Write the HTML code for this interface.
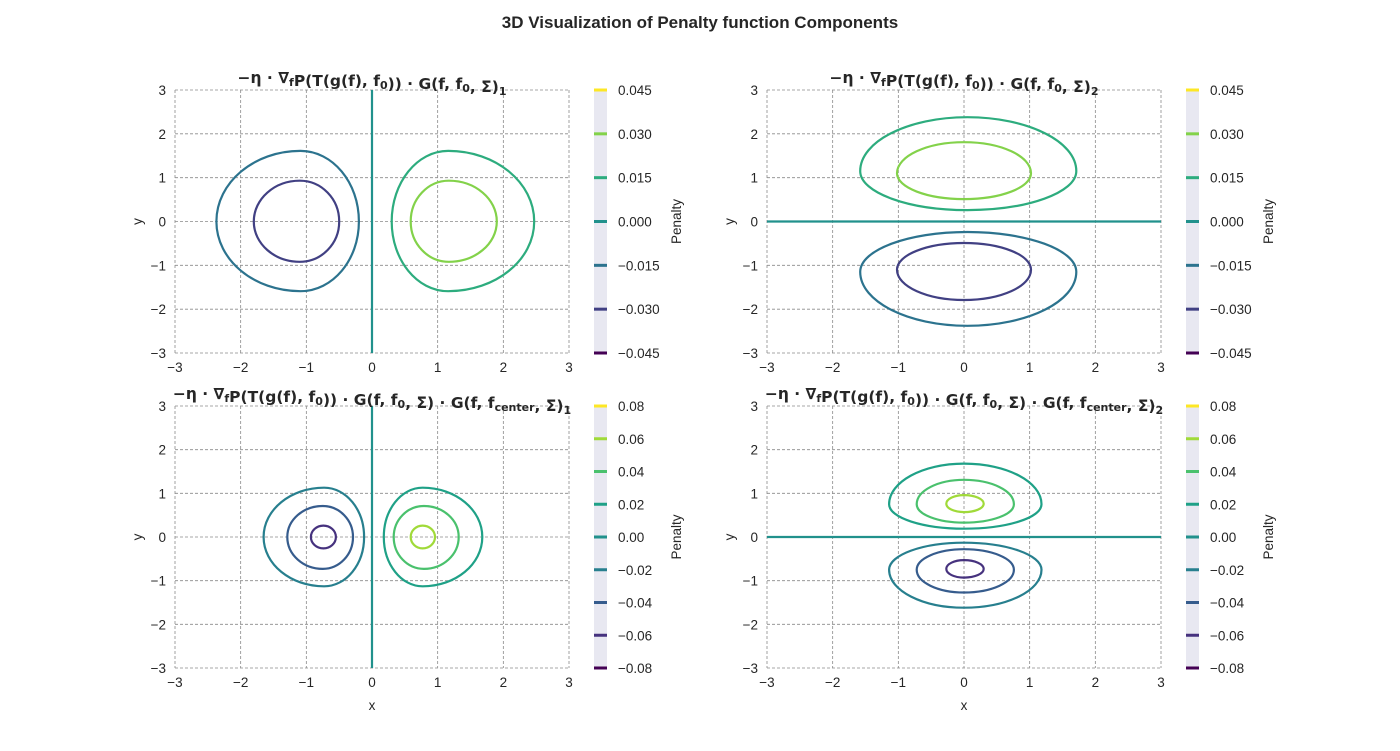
<!DOCTYPE html>
<html><head><meta charset="utf-8">
<style>
body{margin:0;background:#fff;}
svg{display:block;font-family:"Liberation Sans",sans-serif;}
.tk{font-size:13.5px;fill:#262626;}
.tt{font-family:"DejaVu Sans",sans-serif;font-weight:bold;font-size:15.5px;fill:#262626;}
</style></head>
<body>
<svg id="fig" width="1400" height="751" viewBox="0 0 1400 751" xmlns="http://www.w3.org/2000/svg">
<rect width="1400" height="751" fill="#fff"/>
<text x="700" y="28" text-anchor="middle" font-size="17" font-weight="bold" fill="#262626">3D Visualization of Penalty function Components</text>
<g id="plots"></g>
</svg>
<script>
// axis ticks
const xTicks = [-3,-2,-1,0,1,2,3];
const yTicks = [-3,-2,-1,0,1,2,3];
// colorbar levels
const levelsA = [-0.045,-0.030,-0.015,0.000,0.015,0.030,0.045];
const levelLabelsA = ["−0.045","−0.030","−0.015","0.000","0.015","0.030","0.045"];
const levelsB = [-0.08,-0.06,-0.04,-0.02,0.00,0.02,0.04,0.06,0.08];
const levelLabelsB = ["−0.08","−0.06","−0.04","−0.02","0.00","0.02","0.04","0.06","0.08"];
// contour loops: [level, cx, cy, leftExtent, rightExtent, topExtent, bottomExtent] (data units)
const loops1 = [[-0.015,-1.09,0,1.28,0.89,1.61,1.59],[-0.030,-1.10,0,0.70,0.60,0.93,0.92],
                [0.015,1.16,0,0.86,1.31,1.61,1.59],[0.030,1.17,0,0.58,0.73,0.93,0.92]];
const loops2 = [[0.015,0.05,1.15,1.63,1.66,1.23,0.89],[0.030,0.0,1.10,1.02,1.02,0.71,0.59],
                [-0.015,0.05,-1.15,1.63,1.66,0.91,1.23],[-0.030,0.0,-1.10,1.02,1.02,0.61,0.69]];
const loops3 = [[-0.02,-0.73,0,0.92,0.61,1.13,1.13],[-0.04,-0.75,0,0.54,0.46,0.71,0.73],[-0.06,-0.74,0,0.19,0.19,0.26,0.26],
                [0.02,0.77,0,0.59,0.91,1.13,1.13],[0.04,0.79,0,0.46,0.53,0.71,0.73],[0.06,0.77,0,0.18,0.19,0.26,0.26]];
const loops4 = [[0.02,0.0,0.75,1.14,1.18,0.93,0.56],[0.04,0.0,0.75,0.72,0.76,0.56,0.42],[0.06,0.0,0.76,0.27,0.30,0.20,0.19],
                [-0.02,0.0,-0.75,1.14,1.18,0.62,0.87],[-0.04,0.0,-0.75,0.72,0.76,0.47,0.52],[-0.06,0.0,-0.73,0.27,0.30,0.20,0.20]];
// zero-level lines: [orientation, value]
const zero1 = ["v",0.0], zero2 = ["h",0.0], zero3 = ["v",0.0], zero4 = ["h",0.0];

function vir(t){
  const stops=[[0,[68,1,84]],[0.125,[70,50,126]],[0.25,[54,92,141]],[0.375,[39,127,142]],[0.5,[33,145,140]],
               [0.625,[31,161,135]],[0.75,[74,193,109]],[0.875,[160,218,57]],[1,[253,231,37]]];
  for(let i=1;i<stops.length;i++){ if(t<=stops[i][0]+1e-9){const a=stops[i-1],b=stops[i];const f=(t-a[0])/(b[0]-a[0]);
    const c=a[1].map((v,j)=>Math.round(v+(b[1][j]-v)*f));return `rgb(${c.join(',')})`;}}
  return "rgb(253,231,37)";
}
const NS="http://www.w3.org/2000/svg";
const root=document.getElementById('plots');
function el(tag,attrs,parent){const e=document.createElementNS(NS,tag);for(const k in attrs)e.setAttribute(k,attrs[k]);(parent||root).appendChild(e);return e;}

function panel(o){
  const {x0,x1,y0,y1,levels,labels,loops,zero,title,showX,name}=o;
  const g=el('g',{});
  
  
  const sx=v=>x0+(v+3)/6*(x1-x0);
  const sy=v=>y0+(3-v)/6*(y1-y0);
  const lmin=levels[0],lmax=levels[levels.length-1];
  const col=l=>vir((l-lmin)/(lmax-lmin));
  xTicks.forEach(t=>{const l=el('line',{x1:sx(t),x2:sx(t),y1:y0,y2:y1,stroke:'#8a8a8a','stroke-width':0.8,'stroke-dasharray':'3,2'},g);
    
    const tx=el('text',{x:sx(t),y:y1+19,'text-anchor':'middle',class:'tk'},g);tx.textContent=t<0?'−'+(-t):String(t);
    });
  yTicks.forEach(t=>{const l=el('line',{x1:x0,x2:x1,y1:sy(t),y2:sy(t),stroke:'#8a8a8a','stroke-width':0.8,'stroke-dasharray':'3,2'},g);
    
    const tx=el('text',{x:x0-9,y:sy(t)+5,'text-anchor':'end',class:'tk'},g);tx.textContent=t<0?'−'+(-t):String(t);
    });
  let zl;
  if(zero[0]==='v') zl=el('line',{x1:sx(zero[1]),x2:sx(zero[1]),y1:y0,y2:y1,stroke:col(0),'stroke-width':2.2},g);
  else zl=el('line',{x1:x0,x2:x1,y1:sy(zero[1]),y2:sy(zero[1]),stroke:col(0),'stroke-width':2.2},g);
  
  const k=0.5523;
  loops.forEach(c=>{const [lv,cx,cy,L,R,T,B]=c;
    const P=(x,y)=>sx(x).toFixed(1)+','+sy(y).toFixed(1);
    const d=`M${P(cx+R,cy)} C${P(cx+R,cy+k*T)} ${P(cx+k*R,cy+T)} ${P(cx,cy+T)} C${P(cx-k*L,cy+T)} ${P(cx-L,cy+k*T)} ${P(cx-L,cy)} C${P(cx-L,cy-k*B)} ${P(cx-k*L,cy-B)} ${P(cx,cy-B)} C${P(cx+k*R,cy-B)} ${P(cx+R,cy-k*B)} ${P(cx+R,cy)} Z`;
    const p=el('path',{d:d,fill:'none',stroke:col(lv),'stroke-width':2.2},g);
    });
  const cbx=x1+25,cbw=13;
  const cb=el('rect',{x:cbx,y:y0,width:cbw,height:y1-y0,fill:'#e8e8f1'},g);
  
  const cyy=v=>y1-(v-lmin)/(lmax-lmin)*(y1-y0);
  levels.forEach((lv,i)=>{const l=el('line',{x1:cbx,x2:cbx+cbw,y1:cyy(lv),y2:cyy(lv),stroke:col(lv),'stroke-width':3},g);
    
    const t=el('text',{x:cbx+24,y:cyy(lv)+5,class:'tk'},g);t.textContent=labels[i];
    });
  const cl=el('text',{x:0,y:0,class:'tk','text-anchor':'middle',transform:`translate(${cbx+87},${(y0+y1)/2}) rotate(-90)`},g);
  cl.textContent='Penalty';
  const yl=el('text',{x:0,y:0,class:'tk','text-anchor':'middle',transform:`translate(${x0-33},${(y0+y1)/2}) rotate(-90)`},g);
  yl.textContent='y';
  if(showX){const xl=el('text',{x:(x0+x1)/2,y:y1+42,'text-anchor':'middle',class:'tk'},g);xl.textContent='x';
    }
  const tt=el('text',{x:(x0+x1)/2,y:y0-7,'text-anchor':'middle',class:'tt'},g);
  
  tt.innerHTML=title;
}
const sub=s=>`<tspan font-size="11" dy="3">${s}</tspan><tspan dy="-3"></tspan>`;
const base=`−η · ∇${sub('f')}P(T(g(f), f${sub('0')})) · G(f, f${sub('0')}, Σ)`;
panel({x0:175,x1:569,y0:90,y1:353,levels:levelsA,labels:levelLabelsA,loops:loops1,zero:zero1,showX:false,name:'panel-component-1',title:base+sub('1')});
panel({x0:767,x1:1161,y0:90,y1:353,levels:levelsA,labels:levelLabelsA,loops:loops2,zero:zero2,showX:false,name:'panel-component-2',title:base+sub('2')});
panel({x0:175,x1:569,y0:406,y1:668,levels:levelsB,labels:levelLabelsB,loops:loops3,zero:zero3,showX:true,name:'panel-combined-1',title:base+` · G(f, f${sub('center')}, Σ)`+sub('1')});
panel({x0:767,x1:1161,y0:406,y1:668,levels:levelsB,labels:levelLabelsB,loops:loops4,zero:zero4,showX:true,name:'panel-combined-2',title:base+` · G(f, f${sub('center')}, Σ)`+sub('2')});
</script>
</body></html>
